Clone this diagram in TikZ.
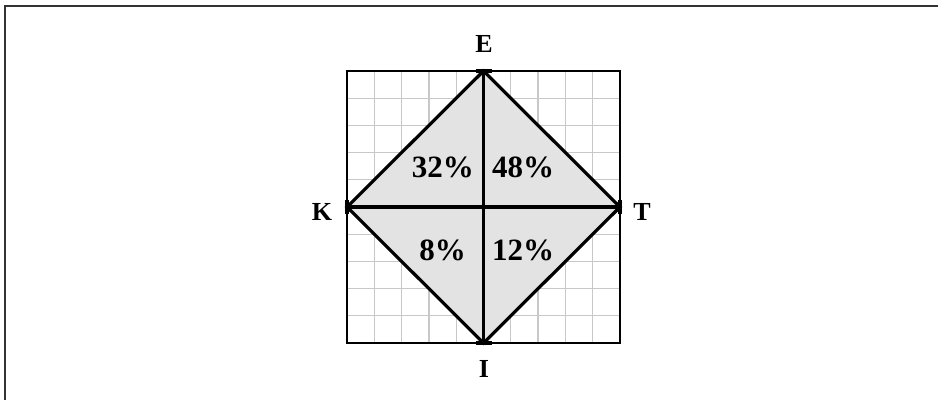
\documentclass[tikz,border=0pt]{standalone}
\usepackage{fontspec}
\setmainfont{Liberation Serif}
\definecolor{gridgray}{HTML}{C8C8C8}
\definecolor{fillgray}{HTML}{E3E3E3}
\definecolor{framegray}{HTML}{333333}
\tikzset{
  gridline/.style={draw=gridgray, line width=1.3pt},
  edge/.style={draw=black, line width=3.2pt, line cap=round},
  tick/.style={draw=black, line width=3.5pt},
  vlabel/.style={font=\bfseries\fontsize{26}{26}\selectfont, inner sep=0pt},
  pct/.style={font=\bfseries\fontsize{31}{31}\selectfont, inner sep=0pt},
}
\begin{document}
\begin{tikzpicture}[x=1pt,y=-1pt]
\useasboundingbox (0,0) rectangle (944,400);
% page frame (top and left only)
\draw[framegray, line width=1.5pt] (938,6) -- (5,6) -- (5,400);
% vertices
\coordinate (E) at (483.5,71);
\coordinate (K) at (347,207);
\coordinate (T) at (620,207);
\coordinate (I) at (483.5,343);
\coordinate (O) at (483.5,207);
% grid
\foreach \i in {1,...,9} {
  \draw[gridline] ({347+27.3*\i},71) -- ({347+27.3*\i},343);
  \draw[gridline] (347,{71+27.2*\i}) -- (620,{71+27.2*\i});
}
\draw[black, line width=2pt] (347,71) rectangle (620,343);
% diamond
\fill[fillgray] (E) -- (T) -- (I) -- (K) -- cycle;
\draw[edge] (E) -- (T) -- (I) -- (K) -- cycle;
\draw[edge] (E) -- (I);
\draw[edge] (K) -- (T);
% ticks
\draw[tick] ([xshift=-8pt]E) -- ([xshift=8pt]E);
\draw[tick] ([xshift=-8pt]I) -- ([xshift=8pt]I);
\draw[tick] ([yshift=-7pt]K) -- ([yshift=7pt]K);
\draw[tick] ([yshift=-7pt]T) -- ([yshift=7pt]T);
% vertex labels
\node[vlabel] (lE) at (484,44) {E};
\node[vlabel] (lK) at (322,212) {K};
\node[vlabel] (lT) at (642,212) {T};
\node[vlabel] (lI) at (484,369) {I};
% percentages
\node[pct, anchor=east] (p32) at (474,167) {32\%};
\node[pct, anchor=west] (p48) at (492,167) {48\%};
\node[pct, anchor=east] (p8) at (466,250) {8\%};
\node[pct, anchor=west] (p12) at (492,250) {12\%};
\end{tikzpicture}
\end{document}
